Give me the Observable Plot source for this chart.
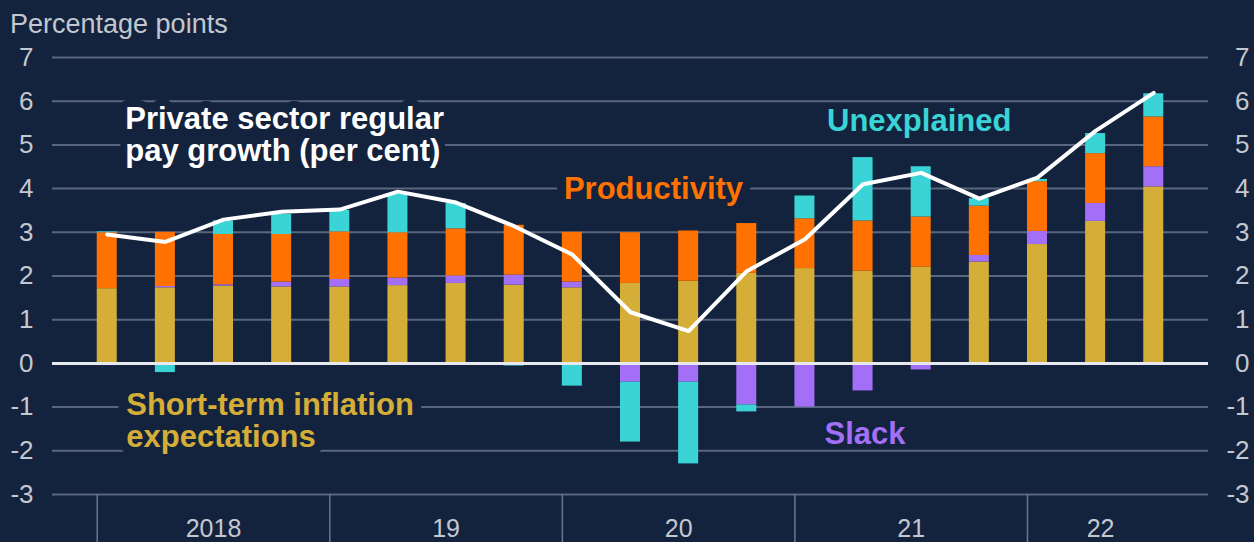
<!DOCTYPE html>
<html>
<head>
<meta charset="utf-8">
<script src="https://cdn.jsdelivr.net/npm/d3@7"></script>
<script src="https://cdn.jsdelivr.net/npm/@observablehq/plot@0.6"></script>
<style>
  html, body { margin: 0; padding: 0; background: #13233e; }
  #title {
    height: 40px; box-sizing: border-box; padding: 4px 0 0 10px;
    line-height: 40px; font-family: "Liberation Sans", Arial, sans-serif;
    font-size: 27px; color: #c3c8d0; white-space: nowrap;
  }
  #chart svg { display: block; }
</style>
</head>
<body>
<div id="title">Percentage points</div>
<div id="chart"></div>
<script>
const quarters = [
  "2018 Q1","2018 Q2","2018 Q3","2018 Q4",
  "2019 Q1","2019 Q2","2019 Q3","2019 Q4",
  "2020 Q1","2020 Q2","2020 Q3","2020 Q4",
  "2021 Q1","2021 Q2","2021 Q3","2021 Q4",
  "2022 Q1","2022 Q2","2022 Q3"
];
const inflation    = [1.71, 1.73, 1.77, 1.75, 1.75, 1.78, 1.83, 1.79, 1.73, 1.83, 1.88, 2.06, 2.17, 2.11, 2.20, 2.32, 2.72, 3.25, 4.04];
const slack        = [-0.05, 0.03, 0.03, 0.11, 0.17, 0.17, 0.17, 0.23, 0.13, -0.43, -0.43, -0.95, -1.00, -0.63, -0.15, 0.15, 0.30, 0.41, 0.46];
const productivity = [1.28, 1.24, 1.15, 1.09, 1.09, 1.04, 1.08, 1.14, 1.14, 1.16, 1.15, 1.14, 1.14, 1.15, 1.15, 1.13, 1.14, 1.14, 1.14];
const unexplained  = [0.02, -0.21, 0.31, 0.46, 0.49, 0.88, 0.58, -0.06, -0.52, -1.37, -1.87, -0.16, 0.52, 1.45, 1.15, 0.17, 0.05, 0.46, 0.53];
const payGrowth    = [2.95, 2.78, 3.29, 3.47, 3.52, 3.93, 3.68, 3.14, 2.49, 1.17, 0.74, 2.11, 2.84, 4.10, 4.36, 3.77, 4.25, 5.32, 6.19];

const seriesNames  = ["Short-term inflation expectations", "Slack", "Productivity", "Unexplained"];
const seriesColors = ["#d4ae36", "#a46ff7", "#ff7100", "#3ad4d6"];
const yearStarts   = ["2018 Q1", "2019 Q1", "2020 Q1", "2021 Q1", "2022 Q1"];
const fullYearLabels = ["2018", "19", "20", "21"];
const fullYearAt     = ["2018 Q3", "2019 Q3", "2020 Q3", "2021 Q3"];
const lastYearLabel  = ["22"];
const lastYearAt     = ["2022 Q2"];
const yTicks = [-3, -2, -1, 0, 1, 2, 3, 4, 5, 6, 7];

const BG = "#13233e";
const GRID = "#5a667d";
const TXT = "#c3c8d0";

const components = [inflation, slack, productivity, unexplained];
const rows = [];
quarters.forEach((q, i) => {
  components.forEach((arr, k) => rows.push({ q, series: seriesNames[k], value: arr[i] }));
});
const lineRows = quarters.map((q, i) => ({ q, v: payGrowth[i] }));

const annot = {
  fontSize: 31, fontWeight: "bold", lineHeight: 1.03, lineAnchor: "middle",
  text: d => d
};

const chart = Plot.plot({
  width: 1254, height: 502,
  marginTop: 17, marginBottom: 48, marginLeft: 52, marginRight: 46,
  style: {
    background: "transparent", color: TXT,
    fontFamily: "'Liberation Sans', Arial, sans-serif", fontSize: "26px", overflow: "visible"
  },
  x: { type: "band", domain: quarters, paddingInner: 0.656, paddingOuter: 0.7695, round: false, axis: null },
  y: { domain: [-3, 7] },
  color: { domain: seriesNames, range: seriesColors },
  marks: [
    Plot.ruleY(yTicks.filter(d => d !== 0), { stroke: GRID, strokeWidth: 2 }),
    Plot.text(["Private sector regular\npay growth (per cent)"], {
      ...annot, x: () => quarters[0], y: 5.24, dx: 18, textAnchor: "start",
      fill: "#ffffff", stroke: BG, strokeWidth: 14
    }),
    Plot.text(["Short-term inflation\nexpectations"], {
      ...annot, x: () => quarters[0], y: -1.32, dx: 19, textAnchor: "start",
      fill: seriesColors[0], stroke: BG, strokeWidth: 18
    }),
    Plot.text(["Productivity"], {
      ...annot, x: () => quarters[9], y: 3.99, dx: 23, textAnchor: "middle",
      fill: seriesColors[2], stroke: BG, strokeWidth: 18
    }),
    Plot.text(["Unexplained"], {
      ...annot, x: () => quarters[14], y: 5.55, dx: -2, textAnchor: "middle",
      fill: seriesColors[3]
    }),
    Plot.text(["Slack"], {
      ...annot, x: () => quarters[13], y: -1.61, dx: 2, textAnchor: "middle",
      fill: seriesColors[1]
    }),
    Plot.barY(rows, { x: "q", y: "value", fill: "series" }),
    Plot.ruleY([0], { stroke: "#e8e9ee", strokeWidth: 3 }),
    Plot.line(lineRows, { x: "q", y: "v", stroke: "#ffffff", strokeWidth: 4, strokeLinejoin: "round" }),
    Plot.axisY(yTicks, { anchor: "left", tickSize: 0, tickPadding: 19, tickFormat: d => String(d), label: null }),
    Plot.axisY(yTicks, { anchor: "right", tickSize: 0, tickPadding: 41, textAnchor: "end", tickFormat: d => String(d), label: null }),
    Plot.ruleX(yearStarts, { x: d => d, y1: -3, y2: -4.12, dx: -10, stroke: "#6b768b", strokeWidth: 1.5 }),
    Plot.text(fullYearLabels, { x: (d, i) => fullYearAt[i], y: -3.78, dx: -10, text: d => d, fill: TXT, fontSize: 25 }),
    Plot.text(lastYearLabel, { x: (d, i) => lastYearAt[i], y: -3.78, dx: 5, text: d => d, fill: TXT, fontSize: 25 })
  ]
});
document.getElementById("chart").appendChild(chart);
</script>
</body>
</html>
